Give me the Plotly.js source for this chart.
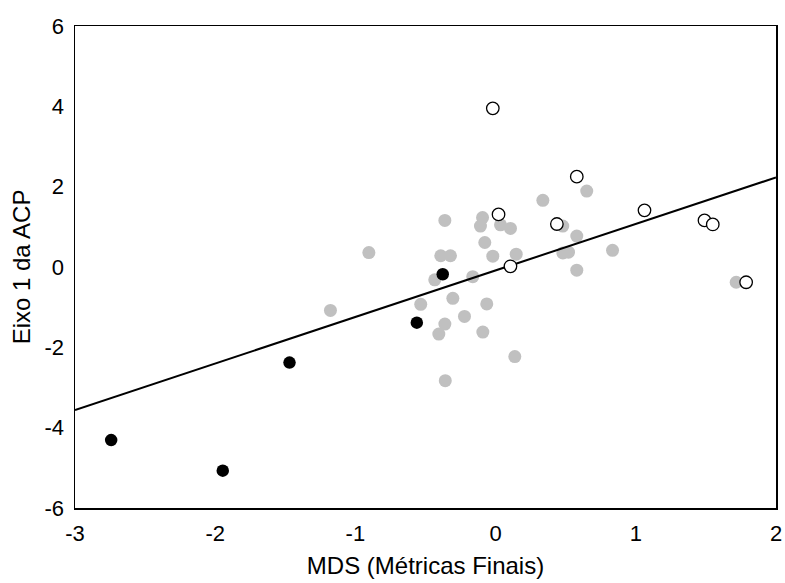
<!DOCTYPE html>
<html>
<head>
<meta charset="utf-8">
<script src="https://cdn.plot.ly/plotly-3.0.1.min.js"></script>
<style>html,body{margin:0;padding:0;background:#fff;}#chart{width:785px;height:583px;}</style>
</head>
<body>
<div id="chart"></div>
<script>
// Grey points (other sites)
const greyX = [-0.904, -1.178, 0.337, -0.362, -0.093, -0.108, 0.035, 0.106, -0.077, -0.391, -0.322, -0.020, 0.147, -0.434, -0.163, -0.534, -0.305, -0.063, -0.362, -0.222, -0.405, -0.091, 0.137, -0.359, 0.650, 0.479, 0.579, 0.480, 0.520, 0.834, 0.579, 1.716];
const greyY = [0.36, -1.08, 1.66, 1.16, 1.23, 1.02, 1.05, 0.96, 0.61, 0.28, 0.28, 0.27, 0.32, -0.32, -0.24, -0.93, -0.78, -0.92, -1.42, -1.23, -1.67, -1.62, -2.23, -2.83, 1.89, 1.02, 0.77, 0.35, 0.37, 0.415, -0.08, -0.38];
// Black filled points
const blackX = [-2.742, -1.946, -1.470, -0.562, -0.377];
const blackY = [-4.31, -5.07, -2.38, -1.386, -0.18];
// Open circles
const openX = [-0.020, 0.579, 0.021, 0.106, 0.437, 1.062, 1.490, 1.549, 1.787];
const openY = [3.95, 2.25, 1.31, 0.017, 1.07, 1.41, 1.16, 1.06, -0.38];
// Regression line endpoints
const fitX = [-3, 2];
const fitY = [-3.56, 2.23];

const xTicks = [-3, -2, -1, 0, 1, 2];
const yTicks = [-6, -4, -2, 0, 2, 4, 6];
const xTitle = 'MDS (Métricas Finais)';
const yTitle = 'Eixo 1 da ACP';

const font = 'Liberation Sans, Arial, sans-serif';

const traces = [
  {x: greyX, y: greyY, mode: 'markers', type: 'scatter',
   marker: {color: '#c0c0c0', size: 13, line: {width: 0}}, hoverinfo: 'x+y'},
  {x: fitX, y: fitY, mode: 'lines', type: 'scatter',
   line: {color: '#000', width: 2}, hoverinfo: 'skip'},
  {x: blackX, y: blackY, mode: 'markers', type: 'scatter',
   marker: {color: '#000', size: 12.5, line: {width: 0}}},
  {x: openX, y: openY, mode: 'markers', type: 'scatter',
   marker: {color: 'rgba(255,255,255,1)', size: 12.5, line: {color: '#000', width: 1.3}}}
];

const layout = {
  width: 785, height: 583,
  margin: {l: 75, r: 9, t: 26, b: 75, pad: 0},
  paper_bgcolor: '#fff', plot_bgcolor: '#fff',
  showlegend: false,
  font: {family: font, color: '#000', size: 22},
  xaxis: {
    range: [-3, 2], tickvals: xTicks, ticktext: xTicks.map(String),
    showgrid: false, zeroline: false, showline: true, mirror: true,
    linecolor: '#000', linewidth: 1.5, ticks: '', ticklabelstandoff: 5,
    tickfont: {family: font, size: 22, color: '#000'},
    title: {text: xTitle, font: {family: font, size: 24, color: '#000'}, standoff: 12}
  },
  yaxis: {
    range: [-6, 6], tickvals: yTicks, ticktext: yTicks.map(String),
    showgrid: false, zeroline: false, showline: true, mirror: true,
    linecolor: '#000', linewidth: 1.5, ticks: '', ticklabelstandoff: 5,
    tickfont: {family: font, size: 22, color: '#000'},
    title: {text: yTitle, font: {family: font, size: 24, color: '#000'}, standoff: 7}
  }
};

Plotly.newPlot('chart', traces, layout, {displayModeBar: false, staticPlot: true});
</script>
</body>
</html>
